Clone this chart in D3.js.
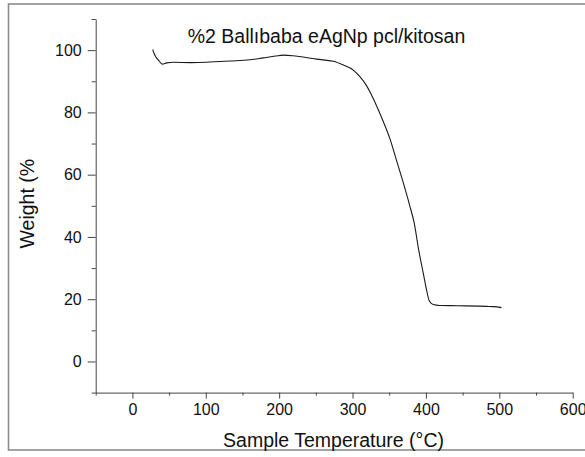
<!DOCTYPE html>
<html>
<head>
<meta charset="utf-8">
<script src="https://cdn.jsdelivr.net/npm/d3@7"></script>
<style>
  html, body { margin: 0; padding: 0; background: #fff; }
  svg { display: block; }
  text { font-family: "Liberation Sans", Arial, sans-serif; fill: #111; }
</style>
</head>
<body>
<svg id="chart" width="585" height="457"></svg>
<script>
// ---- data ----
const temperature = [27.7, 29.6, 32.0, 35.4, 40.8, 46.8, 55.7, 80, 101, 133, 160, 178, 195, 206, 219, 235, 251, 274, 287.5, 301, 310, 318, 325, 333, 342, 351, 360, 369, 378, 384, 390, 396.5, 401, 404, 407, 410, 419, 442, 483, 492, 503];
const weight      = [100.2, 98.9, 97.8, 96.8, 95.5, 95.9, 96.1, 96.0, 96.1, 96.5, 96.9, 97.5, 98.1, 98.4, 98.2, 97.7, 97.1, 96.4, 95.2, 93.6, 91.5, 89.0, 86.0, 82.0, 77.0, 71.5, 64.5, 57.5, 50.0, 44.5, 36.0, 28.2, 22.8, 19.8, 18.7, 18.3, 18.0, 17.9, 17.7, 17.6, 17.3];
const xMajorTicks = [0, 100, 200, 300, 400, 500, 600];
const xMinorTicks = [-50, 50, 150, 250, 350, 450, 550];
const yMajorTicks = [0, 20, 40, 60, 80, 100];
const yMinorTicks = [-10, 10, 30, 50, 70, 90, 110];
const titleText = "%2 Ballıbaba eAgNp pcl/kitosan";
const xLabel = "Sample Temperature (°C)";
const yLabel = "Weight (%";

const svg = d3.select("#chart");

// outer frame
svg.append("rect")
  .attr("x", 8.5).attr("y", 4)
  .attr("width", 600).attr("height", 446)
  .attr("fill", "none").attr("stroke", "#8c8c8c").attr("stroke-width", 1.6);

const x = d3.scaleLinear().domain([-50, 600]).range([95.7, 572.7]);
const y = d3.scaleLinear().domain([-10, 110]).range([392.6, 19]);

const axisColor = "#444";

// x axis
const gx = svg.append("g").attr("transform", `translate(0,${y(-10)})`);
gx.call(d3.axisBottom(x).tickValues(xMajorTicks).tickSize(6).tickSizeOuter(0).tickPadding(5).tickFormat(d3.format("d")));
gx.append("g").call(d3.axisBottom(x).tickValues(xMinorTicks).tickSize(3).tickSizeOuter(0).tickFormat(""))
  .select(".domain").remove();
gx.selectAll("text").attr("font-size", "16px").attr("fill", "#222")
  .attr("font-family", "Liberation Sans, Arial, sans-serif");

// y axis
const gy = svg.append("g").attr("transform", `translate(${x(-50)},0)`);
gy.call(d3.axisLeft(y).tickValues(yMajorTicks).tickSize(8).tickSizeOuter(0).tickPadding(6).tickFormat(d3.format("d")));
gy.append("g").call(d3.axisLeft(y).tickValues(yMinorTicks).tickSize(4).tickSizeOuter(0).tickFormat(""))
  .select(".domain").remove();
gy.selectAll("text").attr("font-size", "16px").attr("fill", "#222")
  .attr("font-family", "Liberation Sans, Arial, sans-serif");

svg.selectAll(".domain, .tick line").attr("stroke", axisColor).attr("stroke-width", 1);

// data line
const pts = temperature.map((t, i) => [t, weight[i]]);
svg.append("path")
  .datum(pts)
  .attr("fill", "none")
  .attr("stroke", "#1a1a1a")
  .attr("stroke-width", 1.1)
  .attr("stroke-linejoin", "round")
  .attr("d", d3.line().x(d => x(d[0])).y(d => y(d[1])).curve(d3.curveMonotoneX));

// title
svg.append("text")
  .attr("x", 326.5).attr("y", 42.5)
  .attr("text-anchor", "middle")
  .attr("font-size", "19.5px")
  .text(titleText);

// x label
svg.append("text")
  .attr("x", 333.5).attr("y", 446.5)
  .attr("text-anchor", "middle")
  .attr("font-size", "19.5px")
  .text(xLabel);

// y label
svg.append("text")
  .attr("transform", "translate(34.3,248.5) rotate(-90)")
  .attr("text-anchor", "start")
  .attr("font-size", "19.5px")
  .text(yLabel);
</script>
</body>
</html>
